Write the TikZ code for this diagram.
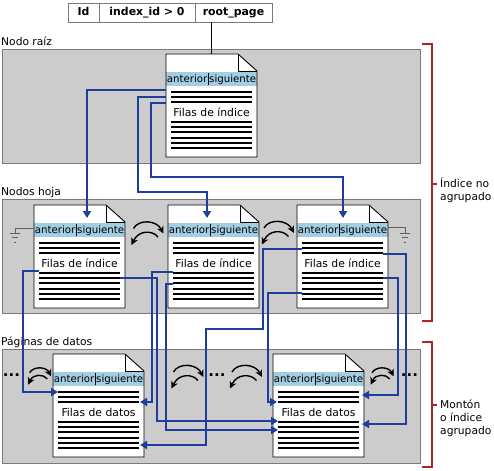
\documentclass[tikz,border=0pt]{standalone}
\usepackage{fontspec}
\setmainfont{DejaVu Sans}
\usetikzlibrary{arrows.meta,calc}
\definecolor{secgray}{HTML}{CCCCCC}
\definecolor{secedge}{HTML}{7A7A7A}
\definecolor{hdrblue}{HTML}{A3CEE2}
\definecolor{linkblue}{HTML}{1F3D9C}
\definecolor{brkred}{HTML}{B22222}
\definecolor{gndgray}{HTML}{606060}
\tikzset{
  secbox/.style={fill=secgray,draw=secedge,line width=1pt,inner sep=0pt,anchor=north west,minimum width=418pt,minimum height=114pt},
  lbl/.style={font=\fontsize{10.7}{13}\selectfont,inner sep=0pt,anchor=base west},
  tcell/.style={draw=secedge,line width=0.8pt,font=\fontsize{10.9}{13}\selectfont\bfseries,minimum height=19pt,inner sep=0pt,text height=8pt,text depth=2.5pt},
  docedge/.style={draw=black,line width=0.9pt},
  rowline/.style={draw=black,line width=2pt},
  hdrtext/.style={font=\fontsize{10.2}{12}\selectfont,inner sep=0pt},
  bodytext/.style={font=\fontsize{10.8}{13}\selectfont,inner sep=0pt},
  link/.style={draw=linkblue,line width=1.7pt},
  linkarr/.style={link,-{Triangle[length=7pt,width=8pt]}},
  swaparr/.style={draw=black,line width=1.4pt,-{Stealth[length=7pt,width=7pt,inset=2pt]}},
  bracket/.style={draw=brkred,line width=1.6pt},
  bracktext/.style={font=\fontsize{10.7}{13}\selectfont,inner sep=0pt,align=left,anchor=west},
  gnd/.style={draw=gndgray,line width=1pt},
  dotstext/.style={font=\fontsize{15}{15}\selectfont\bfseries,inner sep=0pt}
}
\newcommand\docpage[4]{%
  \begin{scope}[shift={(#2,#3)}]
    \path[fill=white] (0,0) -- (72,0) -- (91,17) -- (91,103) -- (0,103) -- cycle;
    \fill[hdrblue] (0,18) rectangle (91,32);
    \draw[docedge] (0,0) -- (72,0) -- (91,17) -- (91,103) -- (0,103) -- cycle;
    \draw[docedge] (72,0) -- (72,17) -- (91,17);
    \node[hdrtext] at (45.5,25) {anterior\kern0.6pt\rule[-2.6pt]{0.7pt}{11.5pt}\kern0.6pt siguiente};
    \foreach \yy in {38,43,48,68,73,78,84,89,94} \draw[rowline] (5,\yy) -- (86,\yy);
    \node[bodytext] at (45.5,58) {#4};
    \path node[minimum width=91pt,minimum height=103pt,inner sep=0pt,anchor=north west] (#1) at (0,0) {};
  \end{scope}}
\newcommand\swaparrows[3]{%
  \begin{scope}[shift={(#1,#2)},scale=#3]
    \draw[swaparr] (-13,-4.5) .. controls (-8,-14) and (10,-13) .. (17,0.5);
    \draw[swaparr] (11.5,4) .. controls (6,-3) and (-8,-3) .. (-15,12);
  \end{scope}}
\newcommand\groundsym[2]{%
  \draw[gnd] (#1-5,#2) -- (#1+5,#2);
  \draw[gnd] (#1-3,#2+4.5) -- (#1+3,#2+4.5);
  \draw[gnd] (#1-1,#2+9) -- (#1+1,#2+9);}
\begin{document}
\begin{tikzpicture}[x=1pt,y=-1pt]
\useasboundingbox (0,0) rectangle (494,470);
% sections
\node[secbox] (secroot) at (2,49) {};
\node[secbox] (secleaf) at (2,199) {};
\node[secbox] (secdata) at (2,349) {};
\node[lbl] (lroot) at (1,46) {Nodo raíz};
\node[lbl] (lleaf) at (1,195) {Nodos hoja};
\node[lbl] (ldata) at (1,345) {Páginas de datos};
% table
\node[tcell,minimum width=31pt] (tid) at (83.5,12.5) {Id};
\node[tcell,minimum width=96pt] (tidx) at (147,12.5) {index\_id > 0};
\node[tcell,minimum width=77pt] (troot) at (233.5,12.5) {root\_page};
% documents
\docpage{root}{166}{54}{Filas de índice}
\docpage{leafA}{34}{205}{Filas de índice}
\docpage{leafB}{168}{205}{Filas de índice}
\docpage{leafC}{297}{205}{Filas de índice}
\docpage{dataA}{53}{354}{Filas de datos}
\docpage{dataB}{273}{354}{Filas de datos}
\draw[line width=1.5pt] (root.north |- troot.south) -- (root.north);
% root links
\draw[linkarr] (root.west |- 0,90) -| (87,218);
\draw[linkarr] (root.west |- 0,97) -| (138,192) -| (207,218);
\draw[linkarr] (root.west |- 0,103) -| (151,177) -| (343,218);
% leaf links
\draw[linkarr] ($(leafA.west |- 0,271)+(5,0)$) -| (23,392) -- (58,392);
\draw[linkarr] ($(leafA.east |- 0,278)+(-5,0)$) -| (157,421) -- (278,421);
\draw[linkarr] ($(leafB.west |- 0,272)+(5,0)$) -| (152,402) -- (140,402);
\draw[linkarr] ($(leafB.west |- 0,284)+(5,0)$) -| (166,430) -- (278,430);
\draw[linkarr] ($(leafC.west |- 0,249)+(5,0)$) -| (263,329) -| (206,445) -- (140,445);
\draw[linkarr] ($(leafC.west |- 0,293)+(5,0)$) -| (268,402) -- (277,402);
\draw[linkarr] ($(leafC.east |- 0,278)+(-5,0)$) -| (398,395) -- (362,395);
\draw[linkarr] ($(leafC.east |- 0,254)+(-5,0)$) -| (406,424) -- (362,424);
% swap arrows
\swaparrows{146.5}{233}{1}
\swaparrows{277}{232.5}{1}
\swaparrows{39}{376}{0.72}
\swaparrows{186.5}{376.5}{1}
\swaparrows{245}{376.5}{1}
\swaparrows{381.5}{376}{0.72}
\node[dotstext] (dl) at (11.5,375) {...};
\node[dotstext] (dm) at (217,375) {...};
\node[dotstext] (dr) at (409.5,375) {...};
% grounds
\draw[gnd] (leafA.west |- 0,228) -| (15,233);
\groundsym{15}{233}
\draw[gnd] (leafC.east |- 0,227) -| (405,233);
\groundsym{405}{233}
% brackets
\draw[bracket] (422,44) -| (432,321) -- (422,321);
\draw[bracket] (432,184) -- (437,184);
\node[bracktext] (bidx) at (440,190) {Índice no\\agrupado};
\draw[bracket] (422,342) -| (432,467) -- (422,467);
\draw[bracket] (432,405) -- (437,405);
\node[bracktext] (bheap) at (440,418) {Montón\\o índice\\agrupado};
\end{tikzpicture}
\end{document}
